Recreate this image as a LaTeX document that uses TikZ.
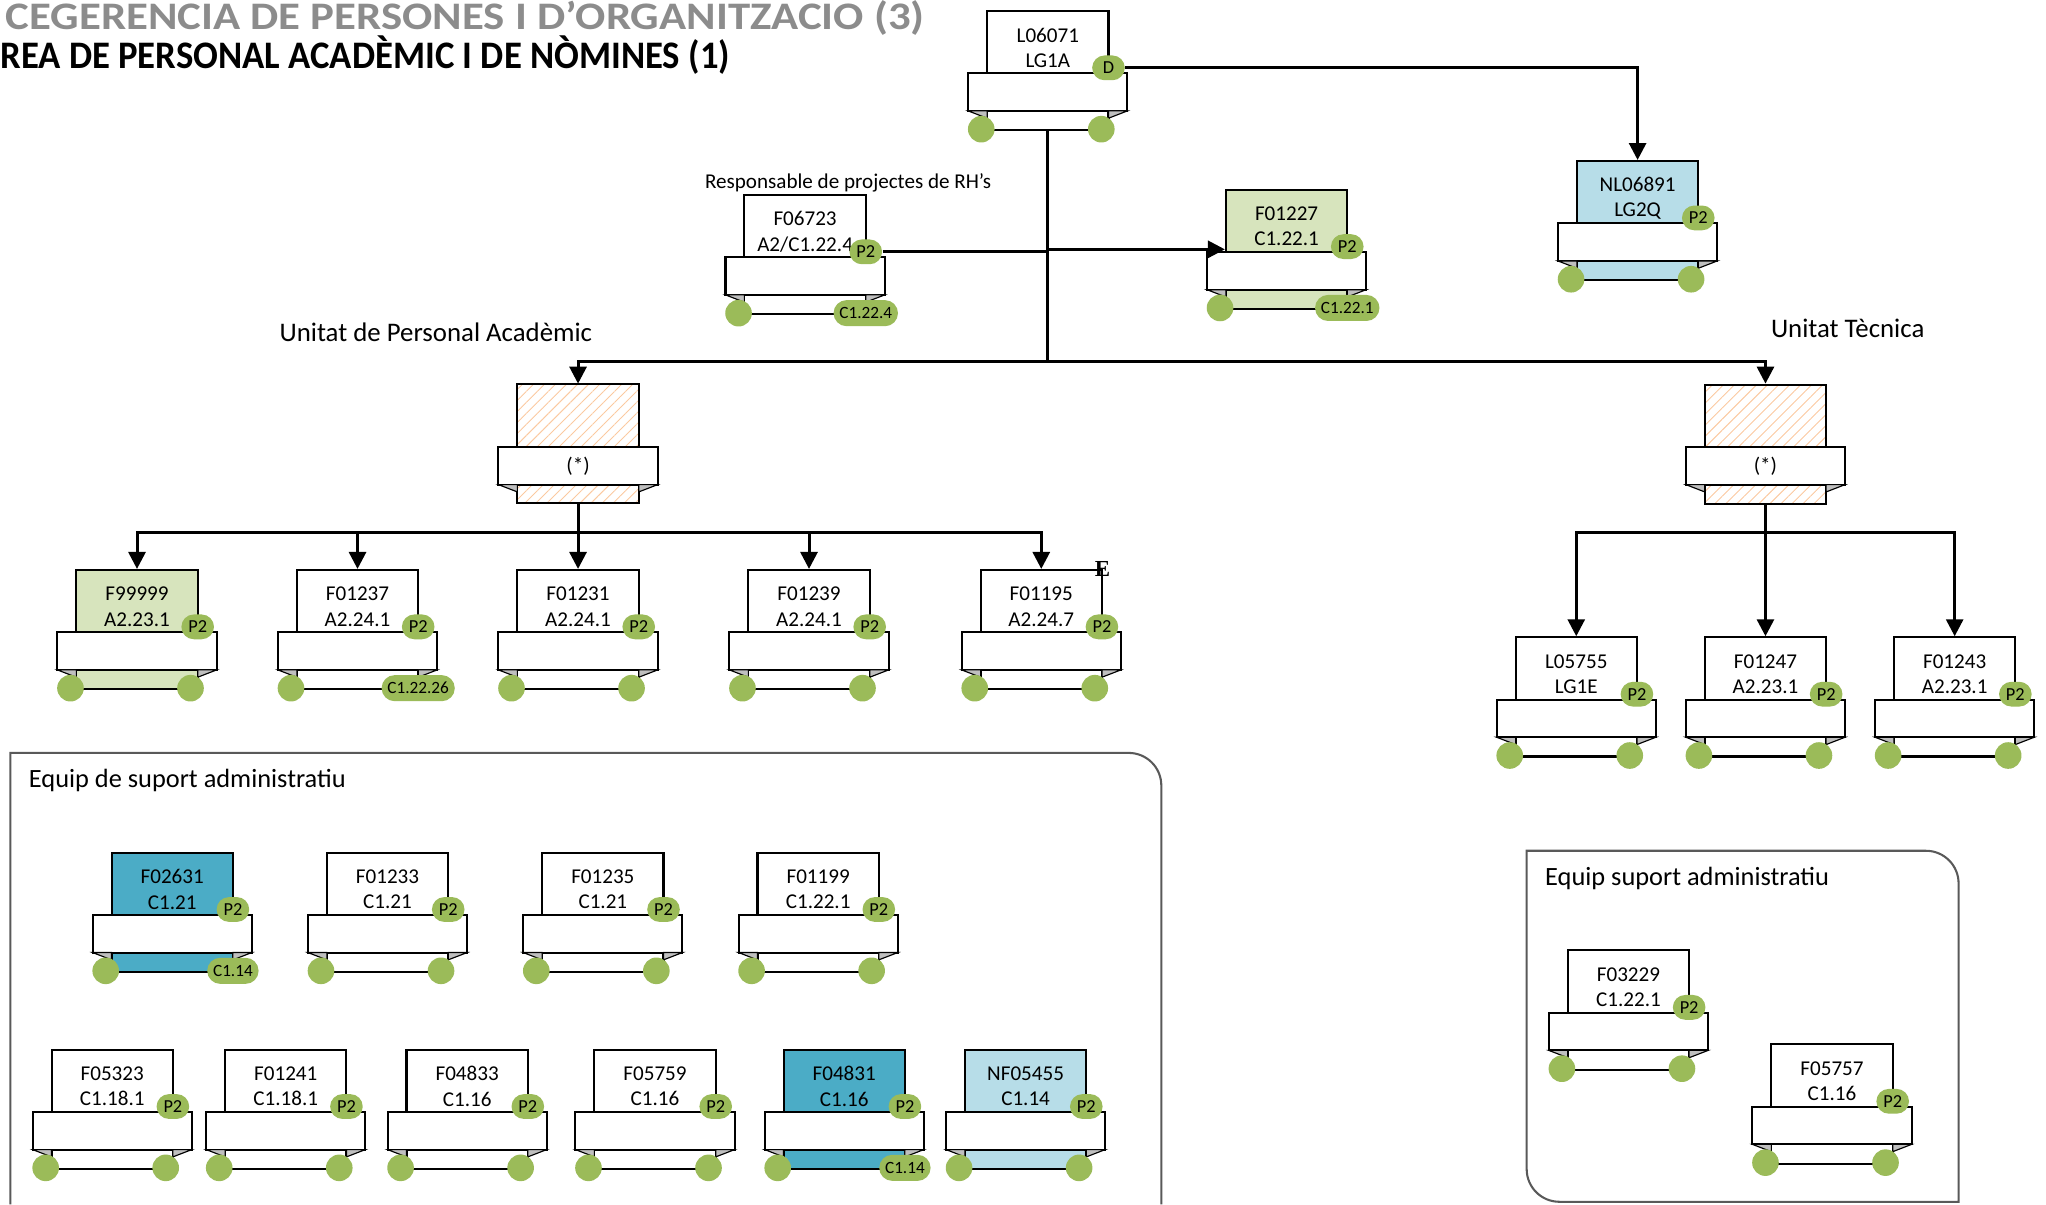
\documentclass[tikz,border=0pt]{standalone}
\usepackage{fontspec}
\setmainfont{Carlito}
\newfontfamily\serifmark{Liberation Serif}
\usetikzlibrary{arrows.meta, patterns.meta}
\definecolor{badge-green}{HTML}{9BBB59}
\definecolor{pale-green}{HTML}{D7E4BD}
\definecolor{pale-blue}{HTML}{B7DDE8}
\definecolor{mid-blue}{HTML}{4BACC6}
\definecolor{fold-grey}{HTML}{BFBFBF}
\definecolor{hatch-orange}{HTML}{FBC9A0}
\definecolor{box-grey}{HTML}{595959}
\definecolor{title-grey}{HTML}{8C8C8C}

% post: name, position, code, grade, fill, top badge, bottom badge
\newcommand{\post}[7]{%
  \begin{scope}[shift={(#2)}]
    \node[card, fill=#5] (#1) at (0,0) {};
    \draw[banner] (-61,48.5) rectangle (61,77.4);
    \draw[fold] (-61,77.4) -- (-46.5,77.4) -- (-46.5,83) -- cycle;
    \draw[fold] (61,77.4) -- (46.5,77.4) -- (46.5,83) -- cycle;
    \fill[badge-green] (-51,91.4) circle (10.2);
    \if\relax\detokenize{#7}\relax
      \fill[badge-green] (41,91.4) circle (10.2);
    \else
      \node[pill] (#1-c) at (46.5,91.4) {#7};
    \fi
    \node[codetext] (#1-t) at (0,29) {#3\\#4};
    \node[p2] (#1-p) at (46.5,44.4) {#6};
  \end{scope}}

% unit without holder
\newcommand{\unit}[2]{%
  \begin{scope}[shift={(#2)}]
    \node[card, hatch] (#1) at (0,0) {};
    \draw[banner] (-61,48.5) rectangle (61,77.4);
    \draw[fold] (-61,77.4) -- (-46.5,77.4) -- (-46.5,83) -- cycle;
    \draw[fold] (61,77.4) -- (46.5,77.4) -- (46.5,83) -- cycle;
    \node (#1-t) at (0,63) {(*)};
  \end{scope}}

\begin{document}
\begin{tikzpicture}[x=0.02cm, y=-0.02cm,
    every node/.style={font=\fontsize{9.2}{11}\selectfont},
    card/.style={draw, line width=0.9pt, anchor=north, minimum width=1.86cm,
      minimum height=1.828cm, inner sep=0pt},
    hatch/.style={pattern={Lines[angle=45, distance=3.4pt, line width=0.4pt]},
      pattern color=hatch-orange},
    banner/.style={line width=0.9pt, fill=white},
    fold/.style={line width=0.5pt, fill=fold-grey},
    codetext/.style={align=center, inner sep=0pt},
    p2/.style={fill=badge-green, rounded corners=0.19cm, minimum width=0.5cm,
      minimum height=0.38cm, inner sep=0pt, font=\fontsize{8}{9}\selectfont},
    pill/.style={fill=badge-green, rounded corners=0.2cm, minimum height=0.4cm,
      inner xsep=0.09cm, inner ysep=0pt, font=\fontsize{7.5}{9}\selectfont},
    link/.style={line width=1.3pt},
    arr/.style={link, -{Triangle[length=0.26cm, width=0.26cm]}},
    group/.style={draw=box-grey, line width=0.9pt},
    tag/.style={font=\fontsize{11.7}{13}\selectfont}]
  \useasboundingbox (0,0) rectangle (1568,923);

  % titles
  \node[anchor=base west, inner sep=0pt, text=title-grey,
    font=\bfseries\fontsize{17}{18}\selectfont] (tit1) at (4,22.5)
    {\scalebox{1.15}[1]{CEGERENCIA DE PERSONES I D’ORGANITZACIO (3)}};
  \node[anchor=west, inner sep=0pt,
    font=\bfseries\fontsize{17}{18}\selectfont] (tit2) at (0,42)
    {\scalebox{0.942}[1]{REA DE PERSONAL ACADÈMIC I DE NÒMINES (1)}};

  % support groups
  \draw[group] (8,923) -- (8,577) -- (865,577)
    arc[start angle=-90, end angle=0, radius=25] -- (890,923);
  \draw[group] (1170,652) -- (1476,652)
    arc[start angle=-90, end angle=0, radius=25] -- (1501,921) -- (1195,921)
    arc[start angle=90, end angle=180, radius=25] -- cycle;
  \node[tag, anchor=west, font=\fontsize{11.5}{13}\selectfont] (eq1) at (16,598) {Equip de suport administratiu};
  \node[tag, anchor=west, font=\fontsize{11.5}{13}\selectfont] (eq2) at (1178,673) {Equip suport administratiu};

  \node[tag] (upa-l) at (334,255) {Unitat de Personal Acadèmic};
  \node[tag] (ut-l) at (1416,252) {Unitat Tècnica};
  \node (rrh) at (650,140) {Responsable de projectes de RH’s};

  % posts
  \post{l06071}{803,7.6}{L06071}{LG1A}{white}{D}{}
  \post{f06723}{617,148.6}{F06723}{A2/C1.22.4}{white}{P2}{C1.22.4}
  \post{f01227}{986,144.6}{F01227}{C1.22.1}{pale-green}{P2}{C1.22.1}
  \post{nl06891}{1255,122.6}{NL06891}{LG2Q}{pale-blue}{P2}{}
  \unit{upa}{443,294}
  \unit{ut}{1353,294}

  \post{f99999}{105,436}{F99999}{A2.23.1}{pale-green}{P2}{}
  \post{f01237}{274,436}{F01237}{A2.24.1}{white}{P2}{C1.22.26}
  \post{f01231}{443,436}{F01231}{A2.24.1}{white}{P2}{}
  \post{f01239}{620,436}{F01239}{A2.24.1}{white}{P2}{}
  \post{f01195}{798,436}{F01195}{A2.24.7}{white}{P2}{}
  \node[inner sep=0pt, font=\serifmark\bfseries\fontsize{10}{10}\selectfont] (f01195-e) at (845,436) {E};

  \post{l05755}{1208,487.6}{L05755}{LG1E}{white}{P2}{}
  \post{f01247}{1353,487.6}{F01247}{A2.23.1}{white}{P2}{}
  \post{f01243}{1498,487.6}{F01243}{A2.23.1}{white}{P2}{}

  \post{f02631}{132,652.6}{F02631}{C1.21}{mid-blue}{P2}{C1.14}
  \post{f01233}{297,652.6}{F01233}{C1.21}{white}{P2}{}
  \post{f01235}{462,652.6}{F01235}{C1.21}{white}{P2}{}
  \post{f01199}{627,652.6}{F01199}{C1.22.1}{white}{P2}{}
  \post{f05323}{86,803.6}{F05323}{C1.18.1}{white}{P2}{}
  \post{f01241}{219,803.6}{F01241}{C1.18.1}{white}{P2}{}
  \post{f04833}{358,803.6}{F04833}{C1.16}{white}{P2}{}
  \post{f05759}{502,803.6}{F05759}{C1.16}{white}{P2}{}
  \post{f04831}{647,803.6}{F04831}{C1.16}{mid-blue}{P2}{C1.14}
  \post{nf05455}{786,803.6}{NF05455}{C1.14}{pale-blue}{P2}{}

  \post{f03229}{1248,727.6}{F03229}{C1.22.1}{white}{P2}{}
  \post{f05757}{1404,799.6}{F05757}{C1.16}{white}{P2}{}

  % connectors
  \coordinate (hub) at (803,277);
  \draw[link] (l06071.south) -- (hub);
  \draw[arr] (hub) -| (upa.north);
  \draw[arr] (hub) -| (ut.north);
  \draw[link] (f06723-p.east) -- (f06723-p.east -| hub);
  \draw[arr] (f01227.west -| hub) -- (f01227.west);
  \draw[arr] (l06071-p.east) -| (nl06891.north);

  \coordinate (upa-bus) at (443,408);
  \draw[link] (upa.south) -- (upa-bus);
  \foreach \n in {f99999, f01237, f01231, f01239, f01195}
    \draw[arr] (upa-bus) -| (\n.north);

  \coordinate (ut-bus) at (1353,408);
  \draw[link] (ut.south) -- (ut-bus);
  \foreach \n in {l05755, f01247, f01243}
    \draw[arr] (ut-bus) -| (\n.north);
\end{tikzpicture}
\end{document}
